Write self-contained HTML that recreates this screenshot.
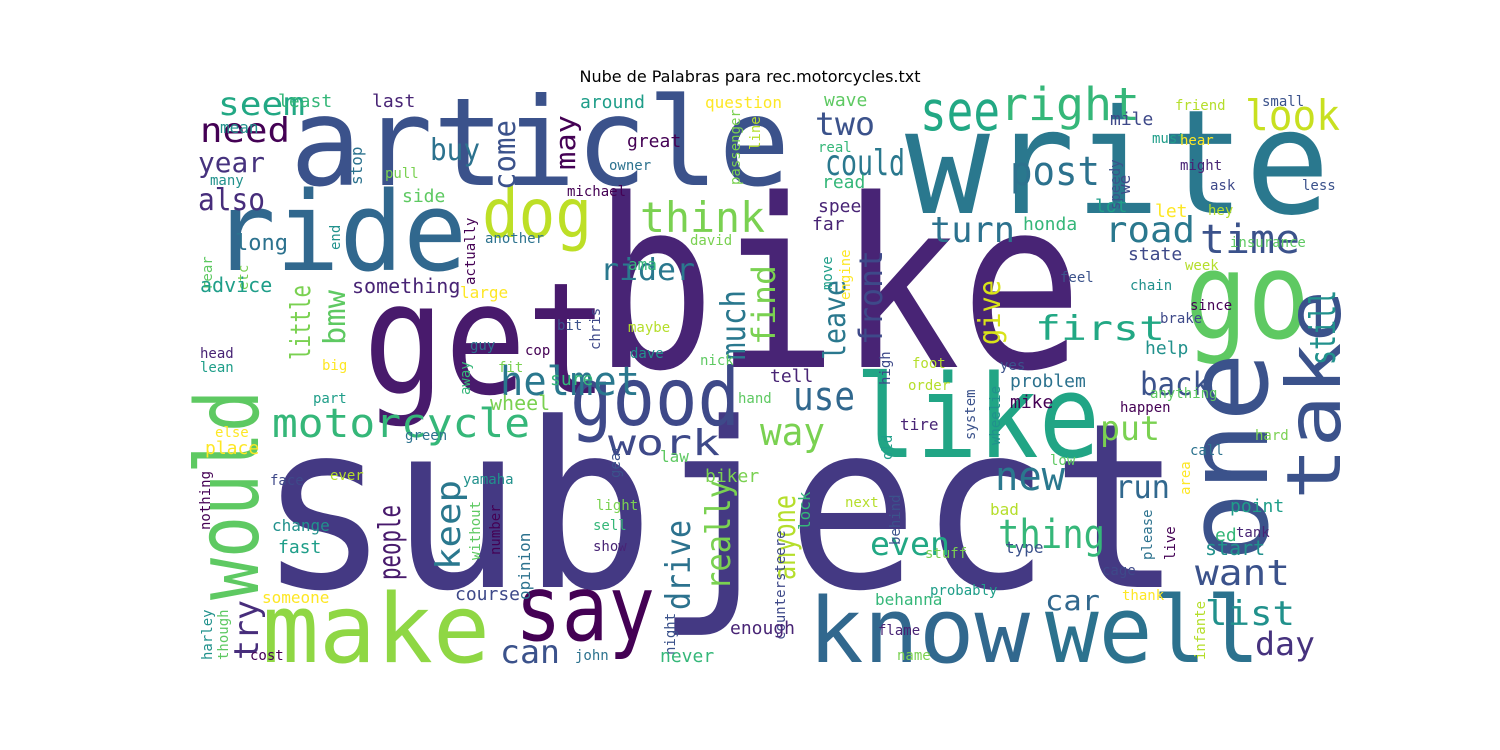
<!DOCTYPE html>
<html><head><meta charset="utf-8">
<style>
html,body{margin:0;padding:0;background:#fff;width:1500px;height:750px;overflow:hidden}
svg text{font-family:"DejaVu Sans Mono","Liberation Mono",monospace}
</style></head>
<body>
<svg id="chart" width="1500" height="750" viewBox="0 0 1500 750">
<text x="750" y="82" text-anchor="middle" font-size="16" fill="#000" style="font-family:'DejaVu Sans','Liberation Sans',sans-serif">Nube de Palabras para rec.motorcycles.txt</text>
<g id="words"></g>
</svg>
<script>
// word cloud data: text, anchor x, baseline y, length(px, big words only), font size, color
const words = ["subject","bike","write","article","ride","get","go","one","like","know","well","make","say","good","see","right","dog","would","take","think","could","post","look","time","use","way","helmet","motorcycle","work","new","thing","even","back","first","turn","road","put","run","car","want","day","list","two","need","seem","year","also","buy","rider","people","keep","try","can","drive","really","anyone","much","find","leave","front","give","still","little","bmw","come","may",
"least","last","around","question","mile","friend","small","mean","wave","great","stop","pull","real","might","must","hear","ask","hey","less","many","side","michael","owner","passenger","read","speed","lot","let","we","line","speedy","end","rear","actually","another","david","honda","far","move","engine","state","week","feel","chain","insurance","since","long","etc","ama","something","advice","large","chris","maybe","bit","dave","nick","cop","guy","fit","away","head","lean","big","high","foot","yes","help","anything","mike","problem","wheel","sure","tell","part","else","brake","order","system","wheelie","hand","happen","green","biker","lock","tire","old","place","face","ever","gear","yamaha","law","nothing","call","hard","ed","tank","point","area","countersteere","next","behind","change","without","number","opinion","light","sell","show","fast","someone","course","bad","type","start","low","live","please","stuff","behanna","flame","probably","thank","cage","infante","night","harley","though","cost","john","name","never","enough"];
const xs = [258,593,905,290,212,363,1185,1267,855,808,1045,262,515,570,920,1000,482,258,1340,640,825,1010,1245,1200,793,760,500,272,608,995,998,870,1140,1035,930,1105,1100,1115,1045,1195,1255,1205,815,200,218,198,198,430,600,400,460,258,500,690,730,795,745,775,845,882,1000,1335,310,345,515,575,
278,372,580,705,1110,1175,1262,220,824,627,362,385,818,1180,1152,1180,1210,1208,1302,210,402,567,609,740,822,818,1095,1155,1130,760,1120,340,212,475,485,690,1023,812,832,850,1128,1185,1060,1130,1230,1190,235,248,628,352,200,460,600,628,557,630,700,525,470,498,470,200,200,322,890,912,1000,1145,1150,1010,1010,490,550,770,313,215,1160,908,975,1000,738,1120,405,705,810,900,892,205,270,330,620,463,660,210,1190,1255,1215,1236,1230,1190,785,845,900,272,480,500,530,596,593,593,278,262,455,990,1005,1205,1050,1175,1152,925,875,878,930,1122,1102,1205,675,212,228,250,575,897,660,730];
const ys = [587,367,213,185,270,393,338,562,457,662,662,662,640,425,130,120,237,600,500,232,175,185,130,253,410,445,395,437,455,490,548,555,395,340,242,242,440,498,610,585,655,625,135,142,115,172,210,160,280,580,570,660,663,610,590,580,360,345,360,345,345,365,360,345,190,170,
107,107,108,108,125,110,106,133,106,147,185,178,152,170,143,145,190,215,190,185,202,196,170,185,188,212,212,217,194,150,210,250,290,285,243,245,230,230,290,300,260,270,282,290,247,310,250,290,270,293,292,298,350,332,330,358,365,355,350,372,395,358,372,370,385,368,370,354,398,408,387,410,385,382,403,437,323,390,440,445,403,412,440,482,530,430,460,454,485,480,478,484,462,530,455,440,541,537,512,495,640,507,545,531,560,555,600,510,530,551,553,603,600,515,553,555,465,560,560,558,605,635,595,600,575,660,655,660,660,660,660,660,662,634,658];
const lens = [925,490,425,500,255,245,125,210,245,222,215,228,140,170,80,140,110,210,210,125,80,90,95,100,62,65,140,258,112,70,107,80,70,130,85,90,60,55,55,95,60,90,60,90,87,67,67,50,95,75,90,60,60,90,110,85,70,80,80,95,65,75,75,55,70,55];
const sizes = [230,235,145,122,110,155,120,113,115,90,92,95,91,80,55,45,68,87,75,42,36,40,42,40,40,38,40,40,36,40,40,32,32,34,36,36,34,32,28,36,32,34,32,34,32,28,30,30,30,30,34,34,32,34,34,30,34,32,30,32,30,36,28,30,30,28,
18,18,18,16,18,14,14,16,18,18,16,14,14,14,14,14,14,14,14,14,18,14,14,14,18,18,18,18,16,14,14,14,14,14,14,14,18,18,14,14,18,14,14,14,14,14,22,14,16,20,20,16,14,14,14,14,14,14,14,14,14,14,14,14,14,14,14,18,14,18,18,20,18,18,14,14,14,14,14,14,14,14,14,18,16,16,14,18,14,14,14,14,16,14,14,14,18,14,18,14,14,14,14,16,14,14,16,14,14,14,18,16,18,16,16,20,14,14,14,14,16,14,14,14,14,14,14,14,14,14,14,14,18,18];
const colors = ["#443983","#482475","#2a788e","#3b528b","#31688e","#481a6c","#5ec962","#3b528b","#21a585","#31688e","#2c728e","#8fd744","#440154","#3e4989","#22a884","#35b779","#bddf26","#5ec962","#3b528b","#7ad151","#2a788e","#2c728e","#c8e020","#3b528b","#31688e","#7ad151","#2a788e","#35b779","#3e4989","#2a788e","#35b779","#22a884","#3b528b","#22a884","#2c728e","#2a788e","#7ad151","#31688e","#31688e","#3b528b","#46327e","#21918c","#3b528b","#440154","#22a884","#46327e","#472d7b","#2c728e","#2a788e","#481a6c","#2a788e","#472d7b","#3b528b","#2c728e","#7ad151","#b5de2b","#2a788e","#7ad151","#2a788e","#3e4989","#d8e219","#21918c","#7ad151","#5ec962","#3b528b","#440154"];
const palette = ["#3b528b","#21918c","#5ec962","#440154","#2c728e","#7ad151","#35b779","#482475","#1f9e89","#fde725","#3e4989","#b5de2b"];

const g = document.getElementById('words');
const vertical = new Set(["one","would","take","people","keep","try","drive","really","anyone","much","find","leave","front","give","still","little","bmw","come","may","stop","passenger","speedy","end","rear","actually","move","engine","etc","chris","away","high","system","wheelie","lock","old","gear","nothing","area","countersteere","behind","without","number","opinion","live","please","infante","night","harley","though","line","we"]);
words.forEach(function(w,i){
  const t = document.createElementNS('http://www.w3.org/2000/svg','text');
  
  
  const s = sizes[i];
  t.setAttribute('font-size', s);
  t.setAttribute('fill', i < colors.length ? colors[i] : palette[i % palette.length]);
  if (i < lens.length) {
    t.setAttribute('textLength', lens[i]);
    t.setAttribute('lengthAdjust', 'spacingAndGlyphs');
  }
  if (vertical.has(w)) {
    t.setAttribute('transform', 'translate(' + xs[i] + ',' + ys[i] + ') rotate(-90)');
    t.setAttribute('x', 0); t.setAttribute('y', 0);
  } else {
    t.setAttribute('x', xs[i]); t.setAttribute('y', ys[i]);
  }
  t.textContent = w;
  g.appendChild(t);
});
</script>
</body></html>
